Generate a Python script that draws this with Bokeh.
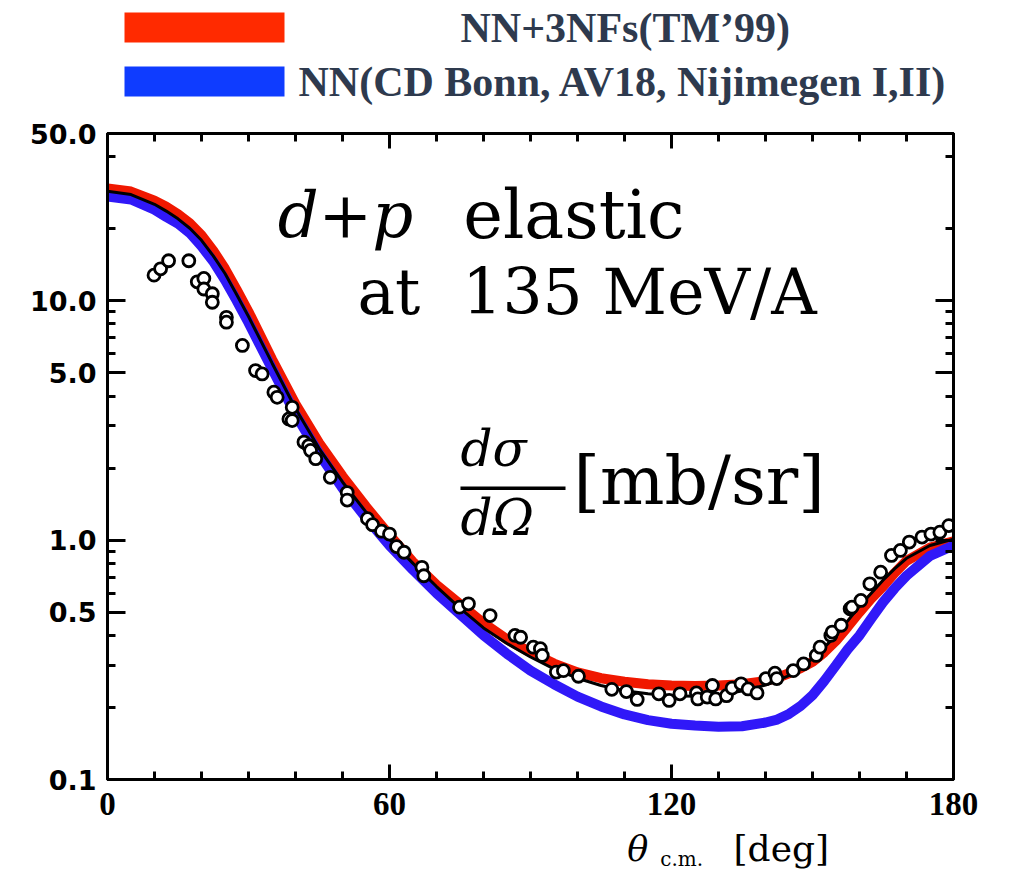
from bokeh.plotting import figure
from bokeh.layouts import column
from bokeh.models import (Range1d, FixedTicker, LinearAxis, LogAxis, Label,
                          BoxAnnotation, CustomJSTickFormatter, ColumnDataSource)
from bokeh.embed import file_html
from bokeh.resources import INLINE

# ---------------- data ----------------
theta = [0, 5, 10, 12.5, 15, 17.5, 20, 22.5, 25, 27.5, 30, 35, 40, 45, 50, 55, 60, 65, 70, 75,
         80, 85, 90, 95, 100, 105, 110, 115, 120, 125, 130, 135, 140, 142.5, 145, 147.5, 150,
         152.5, 155, 157.5, 160, 162.5, 165, 167.5, 170, 175, 180]
nn_3nf = [29.5, 28.6, 26.2, 24.7, 23.0, 21.1, 18.8, 16.2, 13.6, 11.1, 9.0, 5.7, 3.7, 2.55, 1.85,
          1.38, 1.05, 0.81, 0.65, 0.54, 0.45, 0.385, 0.34, 0.305, 0.28, 0.265, 0.256, 0.25, 0.247,
          0.246, 0.247, 0.25, 0.258, 0.266, 0.278, 0.292, 0.31, 0.34, 0.38, 0.435, 0.50, 0.57,
          0.64, 0.73, 0.82, 0.93, 0.99]
nn_only = [27.3, 26.5, 24.0, 22.4, 21.0, 19.2, 16.9, 14.6, 12.2, 10.0, 8.1, 5.2, 3.35, 2.3, 1.65,
           1.24, 0.95, 0.75, 0.6, 0.49, 0.40, 0.335, 0.285, 0.25, 0.222, 0.202, 0.187, 0.177,
           0.171, 0.168, 0.166, 0.167, 0.173, 0.178, 0.188, 0.203, 0.225, 0.258, 0.30, 0.35, 0.40,
           0.47, 0.55, 0.63, 0.71, 0.86, 0.95]
calc_black = [28.7, 27.8, 25.3, 23.7, 22.0, 20.1, 17.9, 15.4, 13.0, 10.6, 8.6, 5.5, 3.55, 2.42,
              1.75, 1.31, 1.01, 0.8, 0.64, 0.52, 0.43, 0.37, 0.325, 0.29, 0.265, 0.247, 0.235,
              0.228, 0.224, 0.223, 0.226, 0.234, 0.248, 0.258, 0.272, 0.293, 0.32, 0.356, 0.40,
              0.46, 0.53, 0.60, 0.68, 0.76, 0.84, 0.95, 1.01]

exp_theta = [9.9, 11.3, 13.0, 17.3, 19.1, 20.5, 20.5, 22.3, 22.3, 25.3, 25.3, 28.7, 31.5, 32.9,
             35.4, 36.1, 38.6, 39.3, 39.3, 41.8, 42.8, 43.2, 44.3, 47.4, 51.0, 51.0, 55.3,
             56.4, 58.3, 60.0, 61.5, 63.1, 66.9, 67.3, 74.9, 76.8, 81.4, 86.7, 87.9, 90.6, 92.1,
             92.5, 95.5, 97.0, 100.2, 107.3, 110.4, 112.7, 117.3, 119.5, 121.8, 125.3, 125.6,
             127.6, 128.7, 129.4, 131.7, 132.9, 134.8, 136.3, 138.2, 140.1, 142.0, 142.4, 145.9,
             148.1, 150.8, 151.6, 153.9, 154.2, 156.1, 158.0, 158.4, 160.3, 162.2, 164.5, 166.8,
             168.7, 170.6, 173.3, 175.2, 177.1, 179.0]
exp_xs = [12.8, 13.6, 14.7, 14.7, 12.0, 12.4, 11.2, 10.7, 9.86, 8.53, 8.14, 6.51, 5.11, 4.95,
          4.15, 3.95, 3.21, 3.59, 3.16, 2.57, 2.48, 2.37, 2.19, 1.83, 1.58, 1.47, 1.23,
          1.16, 1.09, 1.06, 0.94, 0.89, 0.77, 0.71, 0.525, 0.542, 0.484, 0.40, 0.393, 0.357, 0.352,
          0.33, 0.281, 0.285, 0.27, 0.238, 0.233, 0.216, 0.228, 0.214, 0.228, 0.23, 0.217,
          0.221, 0.247, 0.217, 0.224, 0.241, 0.251, 0.239, 0.23, 0.264, 0.278, 0.264, 0.285,
          0.304, 0.33, 0.357, 0.40, 0.413, 0.441, 0.517, 0.525, 0.56, 0.657, 0.735, 0.863,
          0.906, 0.982, 1.03, 1.06, 1.08, 1.15]

legend_labels = ["NN+3NFs(TM\u201999)", "NN(CD Bonn, AV18, Nijimegen I,II)"]
y_major = [0.1, 0.5, 1.0, 5.0, 10.0, 50.0]
y_minor = [0.2, 0.3, 0.4, 0.6, 0.7, 0.8, 0.9, 2, 3, 4, 6, 7, 8, 9, 20, 40]
x_major = [0, 60, 120, 180]
x_minor = [10, 20, 30, 40, 50, 70, 80, 90, 100, 110, 130, 140, 150, 160, 170]

# ---------------- style ----------------
RED = "#f01800"
BLUE = "#3018f8"
RED_KEY = "#ff2a00"
BLUE_KEY = "#0f3cff"
TXT = "#2e3a4e"
SERIF = "DejaVu Serif"
W = 996
LEFT = 107
RIGHT = 43
TOP_H = 108

# ---------------- legend strip (top); frame is aligned with the main frame ----------------
pl = figure(width=W, height=TOP_H, x_range=Range1d(LEFT, W - RIGHT), y_range=Range1d(TOP_H, 0),
            output_backend="svg", toolbar_location=None, x_axis_location=None,
            y_axis_location=None, min_border_left=LEFT, min_border_right=RIGHT,
            min_border_top=0, min_border_bottom=0)
pl.grid.visible = False
pl.outline_line_color = None
pl.add_layout(BoxAnnotation(left=124, right=284, top=12, bottom=42,
                            fill_color=RED_KEY, fill_alpha=1, line_color=None))
pl.add_layout(BoxAnnotation(left=124, right=284, top=66, bottom=96,
                            fill_color=BLUE_KEY, fill_alpha=1, line_color=None))
for lx, ly, txt in [(460, 27, legend_labels[0]), (298, 81, legend_labels[1])]:
    pl.add_layout(Label(x=lx, y=ly, text=txt, text_font="Liberation Serif",
                        text_font_style="bold", text_font_size="42px", text_color=TXT,
                        text_align="left", text_baseline="middle"))

# ---------------- main plot ----------------
p = figure(width=W, height=25 + 646 + 50, x_range=Range1d(0, 180), y_range=Range1d(0.1, 50),
           y_axis_type="log", output_backend="svg", toolbar_location=None,
           min_border_left=LEFT, min_border_right=RIGHT, min_border_top=25, min_border_bottom=50)
p.grid.visible = False
p.outline_line_color = "black"
p.outline_line_width = 3

blank = CustomJSTickFormatter(code="return '';")


def style_axis(ax, major_len):
    ax.axis_line_width = 3
    ax.axis_line_color = "black"
    ax.major_tick_in = major_len
    ax.major_tick_out = 0
    ax.minor_tick_in = 8
    ax.minor_tick_out = 0
    ax.major_tick_line_width = 3
    ax.minor_tick_line_width = 3
    ax.major_tick_line_color = "black"
    ax.minor_tick_line_color = "black"


xa = p.xaxis[0]
xa.ticker = FixedTicker(ticks=x_major, minor_ticks=x_minor)
style_axis(xa, 15)
xa.major_label_text_font = "Liberation Sans Narrow"
xa.major_label_text_font_style = "bold"
xa.major_label_text_font_size = "33px"
xa.major_label_text_color = "black"
xa.major_label_standoff = 13

ya = p.yaxis[0]
ya.ticker = FixedTicker(ticks=y_major, minor_ticks=y_minor)
ya.formatter = CustomJSTickFormatter(code="return tick.toFixed(1);")
style_axis(ya, 18)
ya.major_label_text_font = "DejaVu Sans"
ya.major_label_text_font_style = "bold"
ya.major_label_text_font_size = "27px"
ya.major_label_text_color = "black"
ya.major_label_standoff = 11

top_ax = LinearAxis(ticker=FixedTicker(ticks=x_major, minor_ticks=x_minor), formatter=blank,
                    major_label_text_font_size="2px", major_label_standoff=0)
style_axis(top_ax, 15)
p.add_layout(top_ax, "above")
right_ax = LogAxis(ticker=FixedTicker(ticks=y_major, minor_ticks=y_minor), formatter=blank,
                   major_label_text_font_size="2px", major_label_standoff=0)
style_axis(right_ax, 18)
p.add_layout(right_ax, "right")

src = ColumnDataSource(dict(theta=theta, nn3nf=nn_3nf, nn=nn_only, calc=calc_black))
p.line("theta", "nn3nf", source=src, line_color=RED, line_width=10)
p.line("theta", "nn", source=src, line_color=BLUE, line_width=10)
p.line("theta", "calc", source=src, line_color="black", line_width=3)
p.scatter(exp_theta, exp_xs, marker="circle", size=12, fill_color="white",
          line_color="black", line_width=2.8)


def lab(fig, x, y, text, size, style="normal", font=SERIF):
    fig.add_layout(Label(x=x, y=y, text=text, text_font=font, text_font_size=size,
                         text_font_style=style, text_color="black", text_align="left",
                         text_baseline="alphabetic"))


lab(p, 36.2, 22.8, "d+p", "64px", "italic")
lab(p, 75.7, 22.8, "elastic", "67px")
lab(p, 53.2, 10.83, "at", "63px")
lab(p, 75.5, 10.83, "135 MeV/A", "63px")
lab(p, 75.1, 2.40, "d\u03c3", "50px", "italic")
lab(p, 75.1, 1.237, "d\u03a9", "50px", "italic")
lab(p, 99.15, 1.767, "[mb/sr]", "68px")
p.add_layout(BoxAnnotation(left=75.1, right=97.45, bottom=1.620, top=1.675,
                           fill_color="black", fill_alpha=1, line_color=None))

# ---------------- axis title strip (bottom) ----------------
pb = figure(width=W, height=42, x_range=p.x_range, y_range=Range1d(0, 42),
            output_backend="svg", toolbar_location=None, x_axis_location=None,
            y_axis_location=None, min_border_left=LEFT, min_border_right=RIGHT,
            min_border_top=0, min_border_bottom=0)
pb.grid.visible = False
pb.outline_line_color = None
lab(pb, 110.6, 22.7, "\u03b8", "35px", "italic")
lab(pb, 117.6, 12.8, "c.m.", "20px")
lab(pb, 133.2, 22.7, "[deg]", "36px")

open("out.html", "w").write(file_html(column(pl, p, pb, spacing=0), INLINE))
